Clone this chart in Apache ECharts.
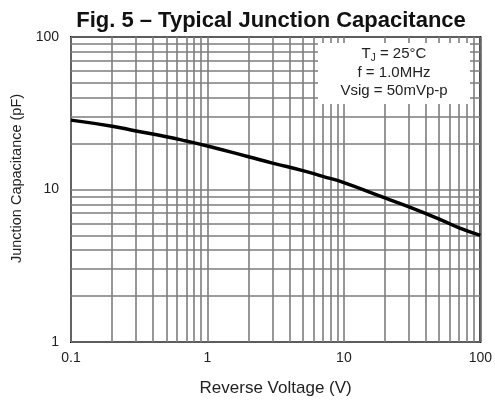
<!DOCTYPE html>
<html>
<head>
<meta charset="utf-8">
<script src="https://cdn.jsdelivr.net/npm/echarts@6/dist/echarts.min.js"></script>
<style>
html,body{margin:0;padding:0;background:#fff;}
#chart{width:495px;height:402px;}
</style>
</head>
<body>
<div id="chart"></div>
<script>
// Data
var voltage = [0.1, 0.2, 0.3, 0.5, 0.7, 1, 2, 3, 5, 7, 10, 20, 30, 50, 70, 100];
var capacitance = [28.5, 26.0, 24.2, 22.2, 20.8, 19.3, 16.4, 14.9, 13.3, 12.2, 11.1, 8.8, 7.7, 6.4, 5.6, 5.0];
var xTickLabels = ['0.1', '1', '10', '100'];
var yTickLabels = ['1', '10', '100'];
var xGridValues = [0.1,0.2,0.3,0.4,0.5,0.6,0.7,0.8,0.9,1,2,3,4,5,6,7,8,9,10,20,30,40,50,60,70,80,90,100];
var yGridValues = [1,2,3,4,5,6,7,8,9,10,20,30,40,50,60,70,80,90,100];
var titleText = 'Fig. 5 – Typical Junction Capacitance';
var noteLines = ['T', 'J', ' = 25°C', 'f = 1.0MHz', 'Vsig = 50mVp-p'];

var FONT = '"Liberation Sans", Arial, sans-serif';
var chart = echarts.init(document.getElementById('chart'), null, {renderer: 'canvas'});

var gridLines = [];
xGridValues.forEach(function (v) { gridLines.push({xAxis: v}); });
yGridValues.forEach(function (v) { gridLines.push({yAxis: v}); });

var option = {
  animation: false,
  backgroundColor: '#fff',
  title: {
    text: titleText,
    left: 266, top: 5, textAlign: 'center',
    textStyle: {fontFamily: FONT, fontWeight: 'bold', fontSize: 22, color: '#111'}
  },
  grid: {left: 71, right: 13, top: 37, bottom: 54, show: true, borderColor: '#000', borderWidth: 2, backgroundColor: 'transparent'},
  xAxis: {
    type: 'log', logBase: 10, min: 0.1, max: 100,
    name: 'Reverse Voltage (V)', nameLocation: 'middle', nameGap: 38,
    nameTextStyle: {fontFamily: FONT, fontSize: 17, color: '#222'},
    axisLine: {show: false}, axisTick: {show: false}, splitLine: {show: false},
    axisLabel: {fontFamily: FONT, fontSize: 14, color: '#222', margin: 9,
      formatter: function (v) { var s = (+v).toString(); return xTickLabels.indexOf(s) >= 0 ? s : ''; }}
  },
  yAxis: {
    type: 'log', logBase: 10, min: 1, max: 100,
    name: 'Junction Capacitance (pF)', nameLocation: 'middle', nameGap: 46,
    nameTextStyle: {fontFamily: FONT, fontSize: 14.5, color: '#222', padding: [0, 0, 0, 22]},
    axisLine: {show: false}, axisTick: {show: false}, splitLine: {show: false},
    axisLabel: {fontFamily: FONT, fontSize: 14, color: '#222', margin: 12,
      formatter: function (v) { var s = (+v).toString(); return yTickLabels.indexOf(s) >= 0 ? s : ''; }}
  },
  series: [
    {
      type: 'line', data: [], silent: true, z: 1,
      markLine: {
        silent: true, symbol: 'none', animation: false,
        label: {show: false},
        lineStyle: {type: 'solid', color: '#7d7d7d', width: 1.6},
        emphasis: {disabled: true},
        data: gridLines
      }
    },
    {
      type: 'line', z: 5,
      data: voltage.map(function (v, i) { return [v, capacitance[i]]; }),
      smooth: true, showSymbol: false, symbol: 'none',
      lineStyle: {color: '#000', width: 3.5}
    }
  ],
  graphic: [
    {type: 'rect', z: 50, shape: {x: 318, y: 43, width: 152, height: 61}, style: {fill: '#fff'}},
    {type: 'text', z: 51, x: 394, y: 54,
      style: {rich: {a: {fontFamily: FONT, fontSize: 15, fill: '#222'}, s: {fontFamily: FONT, fontSize: 10, fill: '#222', padding: [8, 0, 0, 0]}},
        text: '{a|' + noteLines[0] + '}{s|' + noteLines[1] + '}{a|' + noteLines[2] + '}', align: 'center', verticalAlign: 'middle'}},
    {type: 'text', z: 51, x: 394, y: 73,
      style: {text: noteLines[3], font: '15px ' + FONT, fill: '#222', align: 'center', verticalAlign: 'middle'}},
    {type: 'text', z: 51, x: 394, y: 91,
      style: {text: noteLines[4], font: '15px ' + FONT, fill: '#222', align: 'center', verticalAlign: 'middle'}}
  ]
};
chart.setOption(option);
</script>
</body>
</html>
